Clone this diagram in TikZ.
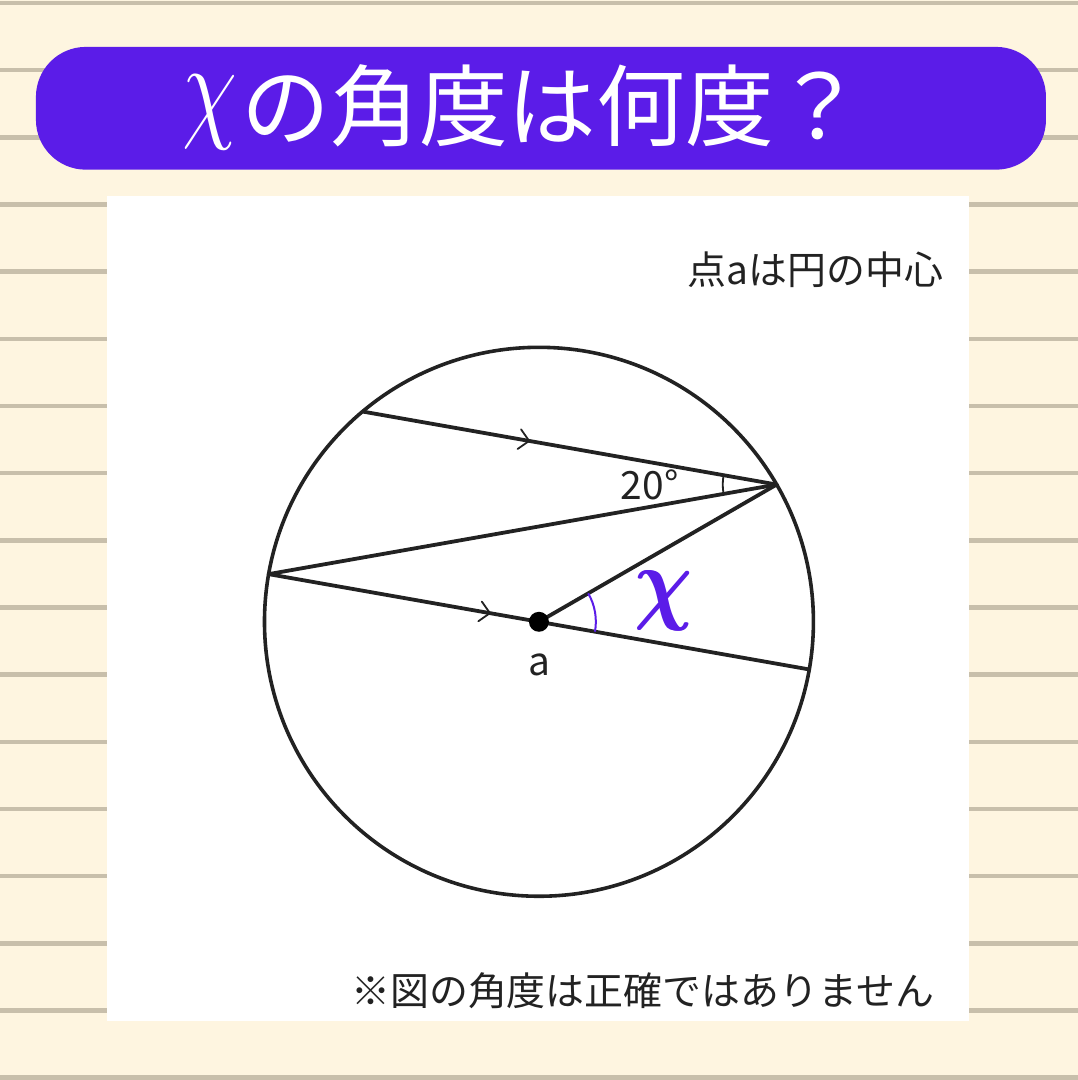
\documentclass[tikz,border=0pt]{standalone}
\usepackage{fontspec}
\setmainfont{Noto Sans CJK JP}
\usetikzlibrary{decorations.markings}
\definecolor{cream}{HTML}{FEF5E0}
\definecolor{rulegray}{HTML}{C8BFAB}
\definecolor{banner}{HTML}{5B1CE8}
\definecolor{ink}{HTML}{222222}
\newcommand{\fatchi}{\rlap{\boldmath$\chi$}\kern0.18pt\boldmath$\chi$}

\begin{document}
\begin{tikzpicture}[x=1pt,y=1pt,line join=round,
    tick/.style={postaction={decorate},decoration={markings,
      mark=at position #1 with {\draw[line width=1.8,line cap=round] (-9,10) -- (1,0) -- (-9,-10);}}}]
  \tikzstyle{chord}=[ink,line width=3.8,line cap=round]
  \tikzstyle{lbl}=[inner sep=0,text=ink,font=\fontsize{39}{39}\selectfont]
  \def\R{275}	% radius of circle
  \def\rs{54}	% radius of 20 deg arc
  \def\rx{57}	% radius of x arc
  % ruled paper
  \fill[cream] (0,0) rectangle (1080,1080);
  \foreach \k in {0,...,16}
    \fill[rulegray] (0,1077-67.3*\k-2.3) rectangle +(1080,4.6);
  \fill[white] (107,57) rectangle (971,884);
  % title
  \node[fill=banner,rounded corners=50,minimum width=1012,minimum height=123,inner sep=0] (banner) at (542,971.5) {};
  \node[inner sep=0,text=white,font=\fontsize{89}{89}\selectfont] (title) at (524,973)
    {\raisebox{13pt}{\scalebox{3.6}[4.8]{$\chi$}}\kern4pt の角度は何度？};

  \coordinate (a) at (540,457);
  \draw[ink,line width=3.6] (a) circle (\R);
  \path (a) ++(130:\R) coordinate (p1)
        (a) ++(30:\R)  coordinate (p2)
        (a) ++(170:\R) coordinate (p3)
        (a) ++(-10:\R) coordinate (p4);

  \draw[chord,tick=0.4] (p1) -- (p2);
  \draw[chord] (p2) -- (p3);
  \draw[chord,tick=0.815] (p3) -- (a);
  \draw[chord] (a) -- (p4);
  \draw[chord] (a) -- (p2);
  % angle marks
  \draw[ink,line width=1.8] (p2) ++(170:\rs) arc (170:190:\rs);
  \draw[banner,line width=2] (a) ++(-10:\rx) arc (-10:30:\rx);
  \node[fill=black,circle,inner sep=0,minimum size=20] (dot) at (a) {};

  % labels
  \node[lbl] (deg) at (651,594) {20°};
  \node[lbl] (alab) at (540,414) {a};
  \node[inner sep=0,text=banner] (xlab) at (665,478)
    {\scalebox{8}[9.3]{\fatchi}};
  \node[lbl,anchor=east] (note) at (945,810) {点aは円の中心};
  \node[lbl,anchor=east] (warn) at (936,87) {※図の角度は正確ではありません};
\end{tikzpicture}
\end{document}
